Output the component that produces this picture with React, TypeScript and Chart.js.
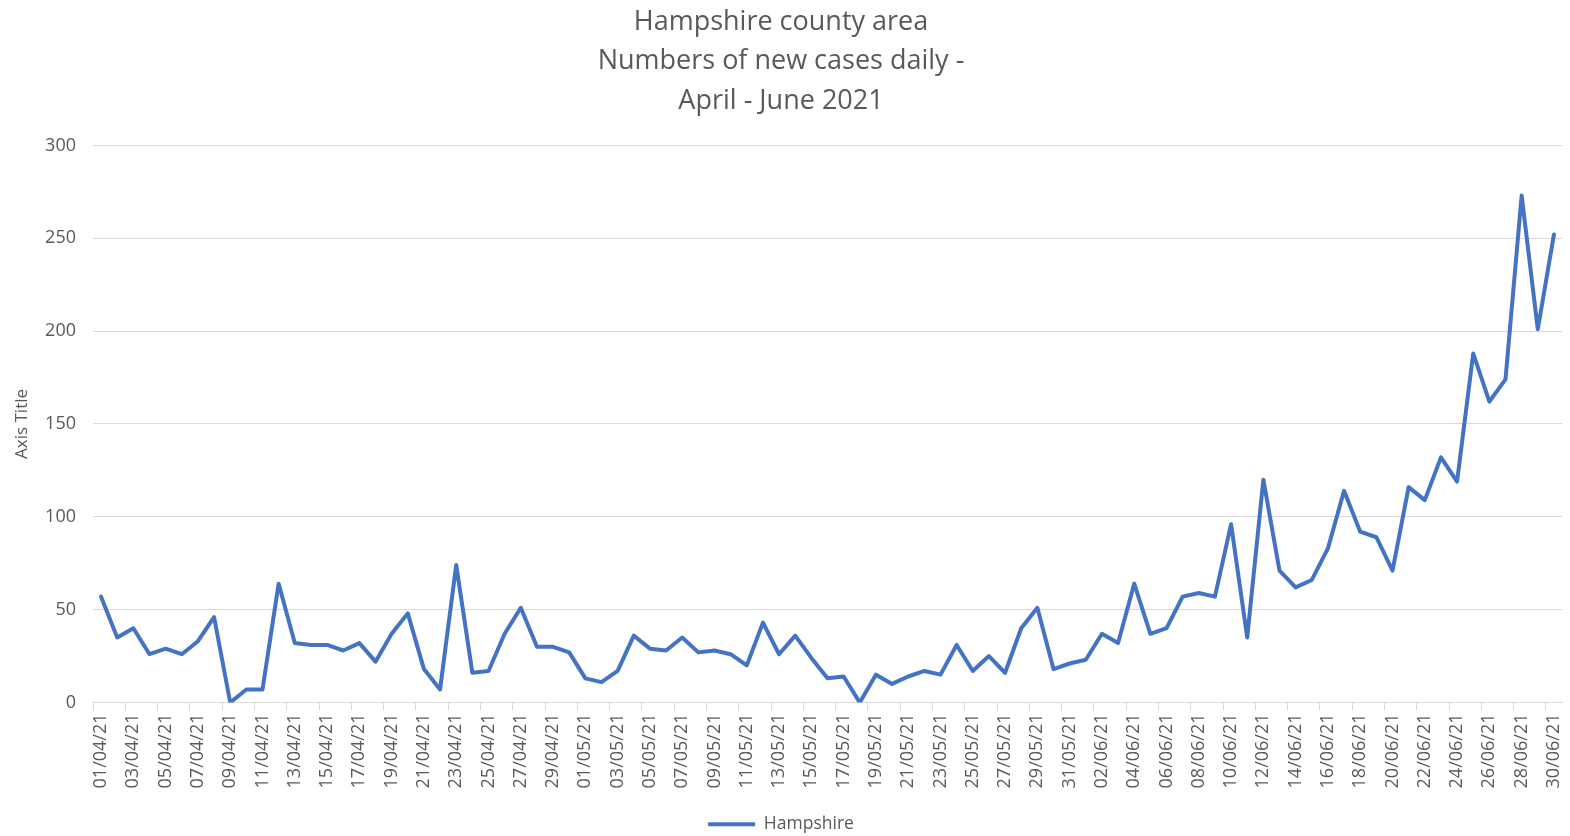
import React, { useEffect, useRef } from 'react';
import { Chart, registerables } from 'chart.js';
Chart.register(...registerables);

const dates = [
  '01/04/21','02/04/21','03/04/21','04/04/21','05/04/21','06/04/21','07/04/21','08/04/21','09/04/21','10/04/21',
  '11/04/21','12/04/21','13/04/21','14/04/21','15/04/21','16/04/21','17/04/21','18/04/21','19/04/21','20/04/21',
  '21/04/21','22/04/21','23/04/21','24/04/21','25/04/21','26/04/21','27/04/21','28/04/21','29/04/21','30/04/21',
  '01/05/21','02/05/21','03/05/21','04/05/21','05/05/21','06/05/21','07/05/21','08/05/21','09/05/21','10/05/21',
  '11/05/21','12/05/21','13/05/21','14/05/21','15/05/21','16/05/21','17/05/21','18/05/21','19/05/21','20/05/21',
  '21/05/21','22/05/21','23/05/21','24/05/21','25/05/21','26/05/21','27/05/21','28/05/21','29/05/21','30/05/21',
  '31/05/21','01/06/21','02/06/21','03/06/21','04/06/21','05/06/21','06/06/21','07/06/21','08/06/21','09/06/21',
  '10/06/21','11/06/21','12/06/21','13/06/21','14/06/21','15/06/21','16/06/21','17/06/21','18/06/21','19/06/21',
  '20/06/21','21/06/21','22/06/21','23/06/21','24/06/21','25/06/21','26/06/21','27/06/21','28/06/21','29/06/21',
  '30/06/21',
];

const hampshire = [
  57, 35, 40, 26, 29, 26, 33, 46, 0, 7,
  7, 64, 32, 31, 31, 28, 32, 22, 37, 48,
  18, 7, 74, 16, 17, 37, 51, 30, 30, 27,
  13, 11, 17, 36, 29, 28, 35, 27, 28, 26,
  20, 43, 26, 36, 24, 13, 14, 0, 15, 10,
  14, 17, 15, 31, 17, 25, 16, 40, 51, 18,
  21, 23, 37, 32, 64, 37, 40, 57, 59, 57,
  96, 35, 120, 71, 62, 66, 83, 114, 92, 89,
  71, 116, 109, 132, 119, 188, 162, 174, 273, 201,
  252,
];

const titleLines = ['Hampshire county area', 'Numbers of new cases daily -', 'April - June 2021'];
const seriesName = 'Hampshire';
const yAxisTitle = 'Axis Title';
const yMin = 0;
const yMax = 300;
const yStep = 50;

const FONT = "'Open Sans', sans-serif";
const TEXT = '#595959';
const GRID = '#d9d9d9';
const LINE = '#4472C4';

export default function App() {
  const ref = useRef<HTMLCanvasElement>(null);
  useEffect(() => {
    document.body.style.margin = '0';
    const chart = new Chart(ref.current!, {
      type: 'line',
      data: {
        labels: dates,
        datasets: [
          {
            label: seriesName,
            data: hampshire,
            borderColor: LINE,
            backgroundColor: LINE,
            borderWidth: 4,
            pointRadius: 0,
            tension: 0,
            borderCapStyle: 'round',
            borderJoinStyle: 'round',
          },
        ],
      },
      options: {
        responsive: false,
        animation: false,
        layout: { padding: { left: 0, right: 8, top: 0, bottom: -7 } },
        plugins: {
          title: {
            display: true,
            text: titleLines,
            color: TEXT,
            font: { family: FONT, size: 27, weight: 'normal', lineHeight: 1.45 },
            padding: { top: 3, bottom: 25 },
          },
          legend: {
            position: 'bottom',
            labels: {
              usePointStyle: true,
              pointStyle: 'line',
              pointStyleWidth: 47,
              color: TEXT,
              font: { family: FONT, size: 17.5 },
              padding: 0,
            },
          },
          tooltip: { enabled: false },
        },
        scales: {
          x: {
            offset: true,
            grid: {
              offset: true,
              drawOnChartArea: false,
              drawTicks: true,
              tickLength: 8,
              color: (ctx: any) => (ctx.index % 2 === 0 ? GRID : 'rgba(0,0,0,0)'),
            },
            border: { color: GRID },
            ticks: {
              autoSkip: false,
              minRotation: 90,
              maxRotation: 90,
              color: TEXT,
              font: { family: FONT, size: 18 },
              callback: (_v: any, i: number) => (i % 2 === 0 ? dates[i] : ''),
            },
            afterFit: (s: any) => {
              s.height = 113;
              s.paddingLeft = 0;
              s.paddingRight = 0;
            },
          },
          y: {
            min: yMin,
            max: yMax,
            ticks: {
              stepSize: yStep,
              color: TEXT,
              font: { family: FONT, size: 18 },
              padding: 17,
            },
            grid: { color: GRID, drawTicks: false },
            border: { display: false },
            title: {
              display: true,
              text: yAxisTitle,
              color: TEXT,
              font: { family: FONT, size: 17 },
              padding: { top: 12, bottom: 4 },
            },
            afterFit: (s: any) => {
              s.width = 93;
            },
          },
        },
      },
    });
    return () => chart.destroy();
  }, []);
  return <canvas ref={ref} width={1570} height={836} style={{ display: 'block' }} />;
}
